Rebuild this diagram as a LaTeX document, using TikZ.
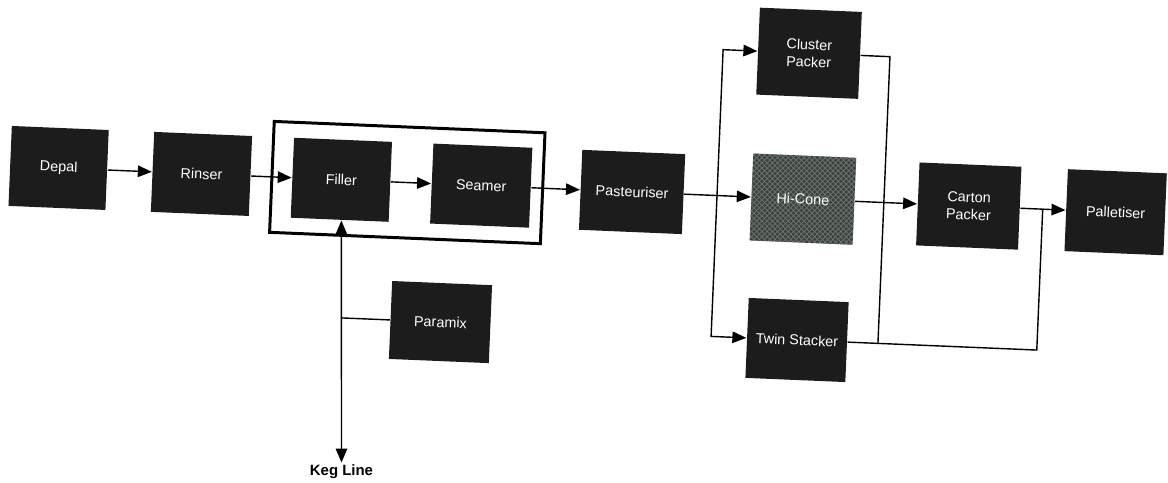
\documentclass[tikz,border=0pt]{standalone}
\usepackage{fontspec}
\setmainfont{Liberation Sans}
\usepackage{tikz}
\usetikzlibrary{positioning}
\usetikzlibrary{arrows.meta,patterns}
\definecolor{stagefill}{HTML}{1C1C1C}
\definecolor{hiconefill}{HTML}{3C423E}
\definecolor{hiconehatch}{HTML}{6E746F}
\tikzset{%
  every stage/.style={
    rectangle,
    fill=stagefill,
    text=white,
    align=center,
    inner sep=2pt,
    font=\fontsize{8.2}{10}\selectfont,
    minimum width=2cm,
    minimum height=1.6cm
  },
  tall stage/.style={
    every stage,
    minimum height=1.74cm
  },
  hicone stage/.style={
    tall stage,
    fill=hiconefill,
    postaction={pattern=crosshatch, pattern color=hiconehatch}
  },
  line frame/.style={
    draw,
    line width=1.7pt,
    minimum width=5.42cm,
    minimum height=2.22cm
  },
  keg label/.style={
    font=\fontsize{8.5}{10}\selectfont\bfseries,
    inner sep=1pt
  },
}

\begin{document}
\begin{tikzpicture}[> = {Triangle[length=2.8mm,width=2.3mm]}, line width=0.8pt]
\useasboundingbox (-11.68,-4.82) rectangle (11.68,4.82);
\begin{scope}[rotate=-2.4, transform shape]
    \node[every stage, minimum width=1.94cm] (depal) at (-10.56,1.02) {Depal};
    \node[every stage, minimum width=1.96cm] (rinser) at (-7.7,1.02) {Rinser};
    \node[every stage, minimum width=1.96cm] (filler) at (-4.9,1.02) {Filler};
    \node[every stage, minimum width=1.98cm] (seamer) at (-2.1,1.02) {Seamer};
    \node[line frame] (unit) at (-3.58,1.02) {};
    \node[every stage, minimum width=2.06cm] (past) at (0.92,1.02) {Pasteuriser};
    \node[tall stage, minimum width=2.04cm] (cluster) at (4.34,3.94) {Cluster\\Packer};
    \node[hicone stage, minimum width=2.06cm] (hicone) at (4.34,1.02) {Hi-Cone};
    \node[every stage] (twin) at (4.34,-1.8) {Twin Stacker};
    \node[every stage, minimum width=2.04cm, minimum height=1.66cm] (carton) at (7.66,1.02) {Carton\\Packer};
    \node[every stage, minimum width=1.98cm, minimum height=1.64cm] (pall) at (10.6,1.02) {Palletiser};
    \node[every stage, minimum height=1.56cm] (paramix) at (-2.8,-1.74) {Paramix};

    \coordinate (split) at (2.62,1.02);
    \coordinate (split top) at (2.62,3.94);
    \coordinate (split bot) at (2.62,-1.8);
    \coordinate (merge top) at (5.96,3.94);
    \coordinate (merge bot) at (5.96,-1.8);
    \coordinate (join) at (9.14,1.02);
    \coordinate (join bot) at (9.14,-1.8);
    \coordinate (mix) at (-4.78,-1.74);

    \draw[->] (depal) -- (rinser);
    \draw[->] (rinser) -- (filler);
    \draw[->] (filler) -- (seamer);
    \draw[->] (seamer) -- (past);
    \draw[->] (past) -- (hicone);
    \draw[->] (split) -- (split top) -- (cluster);
    \draw[->] (split) -- (split bot) -- (twin);
    \draw[->] (hicone) -- (carton);
    \draw[->] (carton) -- (pall);
    \draw (cluster) -- (merge top) -- (merge bot);
    \draw (twin) -- (join bot) -- (join);
    \draw (paramix) -- (mix);
\end{scope}
\node[keg label] (keg) at (-4.85,-4.62) {Keg Line};
\draw[<->] (filler) -- (keg);
\end{tikzpicture}
\end{document}
